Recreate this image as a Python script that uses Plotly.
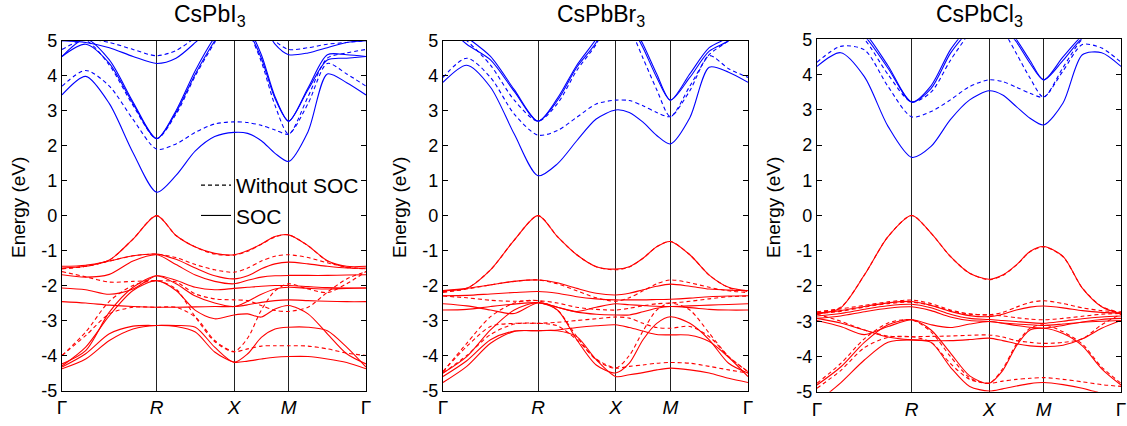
import numpy as np
import plotly.graph_objects as go
from plotly.subplots import make_subplots

# ---------------- data ----------------
K_NODES = [0.0, 0.866, 1.573, 2.073, 2.780]          # Γ R X M Γ (path length)
K_LABELS = ["Γ", "<i>R</i>", "<i>X</i>", "<i>M</i>", "Γ"]
Y_TICKS = [-5, -4, -3, -2, -1, 0, 1, 2, 3, 4, 5]
Y_LABELS = ["-5", "-4", "-3", "-2", "-1", "0", "1", "2", "3", "4", "5"]
TITLES = ["CsPbI<sub>3</sub>", "CsPbBr<sub>3</sub>", "CsPbCl<sub>3</sub>"]

# band energies (eV) read at 17 k-points: Γ, 3 pts, R, 3 pts, X, 3 pts, M, 3 pts, Γ
# ---- CsPbI3 ----
I_CB_SOC = [
    [3.45, 3.98, 3.2, 1.8, 0.67, 1.15, 1.85, 2.26, 2.38, 2.35, 2.14, 1.78, 1.55, 2.4, 4.05, 3.8, 3.45],
    [4.55, 4.9, 4.35, 3.2, 2.2, 2.95, 4.05, 5.0, 5.8, 5.3, 4.5, 3.35, 2.7, 3.6, 4.45, 4.5, 4.55],
    [4.55, 5.05, 4.45, 3.25, 2.2, 3.0, 4.15, 5.1, 5.8, 5.4, 4.6, 3.4, 2.7, 3.65, 4.6, 4.6, 4.55],
    [5.0, 4.95, 4.8, 4.55, 4.35, 4.5, 4.95, 5.5, 6.0, 6.0, 5.6, 4.9, 4.6, 4.65, 4.8, 4.95, 5.0],
]
I_CB_NOSOC = [
    [3.7, 4.15, 3.7, 2.75, 1.9, 2.05, 2.38, 2.62, 2.68, 2.66, 2.58, 2.45, 2.33, 3.2, 4.35, 4.05, 3.7],
    [4.75, 5.0, 4.3, 3.15, 2.2, 2.9, 4.0, 4.95, 5.8, 5.3, 4.4, 3.15, 2.33, 3.4, 4.5, 4.65, 4.75],
    [5.0, 5.05, 4.95, 4.75, 4.57, 4.72, 5.1, 5.6, 6.0, 6.0, 5.6, 5.0, 4.75, 4.8, 4.9, 4.95, 5.0],
]
I_VB_SOC = [
    [-1.45, -1.42, -1.27, -0.67, 0.0, -0.57, -0.9, -1.08, -1.12, -1.0, -0.81, -0.6, -0.55, -0.86, -1.29, -1.45, -1.45],
    [-1.5, -1.45, -1.3, -1.15, -1.1, -1.25, -1.5, -1.72, -1.81, -1.72, -1.52, -1.38, -1.33, -1.38, -1.45, -1.5, -1.5],
    [-1.69, -1.76, -1.68, -1.3, -1.12, -1.4, -1.7, -1.88, -1.95, -1.85, -1.76, -1.72, -1.71, -1.71, -1.71, -1.7, -1.69],
    [-2.07, -2.12, -2.25, -2.1, -1.72, -1.85, -2.05, -2.12, -2.08, -2.05, -2.02, -2.0, -2.0, -2.03, -2.06, -2.07, -2.07],
    [-2.46, -2.5, -2.56, -2.6, -2.62, -2.62, -2.61, -2.6, -2.6, -2.55, -2.48, -2.43, -2.41, -2.43, -2.45, -2.46, -2.46],
    [-4.3, -3.76, -2.86, -2.14, -1.86, -2.14, -2.71, -2.95, -2.84, -2.81, -2.9, -2.67, -2.57, -2.81, -3.38, -3.95, -4.24],
    [-4.24, -3.86, -2.76, -2.05, -1.72, -1.95, -2.3, -2.5, -2.6, -2.45, -2.25, -2.1, -2.05, -2.08, -2.1, -2.08, -2.07],
    [-4.33, -3.95, -3.38, -3.16, -3.14, -3.14, -3.19, -3.76, -4.19, -3.95, -3.48, -3.24, -3.19, -3.19, -3.29, -3.76, -4.33],
    [-4.38, -4.1, -3.57, -3.24, -3.14, -3.17, -3.33, -3.9, -4.19, -4.16, -4.1, -4.05, -4.03, -4.03, -4.1, -4.2, -4.38],
]
I_VB_NOSOC = [
    [-1.52, -1.45, -1.27, -0.67, 0.0, -0.57, -0.9, -1.1, -1.13, -1.02, -0.82, -0.61, -0.55, -0.86, -1.3, -1.48, -1.52],
    [-1.52, -1.45, -1.3, -1.15, -1.1, -1.2, -1.4, -1.55, -1.62, -1.5, -1.3, -1.16, -1.12, -1.2, -1.35, -1.47, -1.52],
    [-1.6, -1.75, -1.9, -1.88, -1.86, -1.9, -2.24, -2.38, -2.41, -2.43, -2.57, -2.71, -2.74, -2.62, -2.19, -1.81, -1.6],
    [-4.0, -3.43, -2.81, -2.62, -2.62, -2.62, -2.9, -3.57, -3.89, -3.81, -3.73, -3.72, -3.72, -3.73, -3.81, -3.93, -4.0],
    [-4.0, -3.33, -2.45, -2.0, -1.86, -2.1, -2.9, -3.6, -3.89, -3.5, -2.7, -2.15, -1.95, -2.1, -2.2, -1.95, -1.6],
]
# ---- CsPbBr3 ----
BR_CB_SOC = [
    [3.81, 4.3, 3.67, 2.33, 1.14, 1.48, 2.14, 2.76, 3.02, 2.95, 2.67, 2.29, 2.05, 2.8, 4.24, 4.1, 3.81],
    [5.5, 4.9, 4.45, 3.55, 2.7, 3.29, 4.24, 4.95, 6.0, 5.5, 4.8, 3.95, 3.3, 3.95, 4.7, 5.0, 5.5],
    [5.6, 5.1, 4.55, 3.6, 2.7, 3.35, 4.3, 5.05, 6.0, 5.6, 4.9, 4.05, 3.3, 4.05, 4.8, 5.1, 5.6],
]
BR_CB_NOSOC = [
    [3.95, 4.5, 3.95, 2.9, 2.3, 2.43, 2.81, 3.19, 3.3, 3.29, 3.14, 2.95, 2.83, 3.57, 4.57, 4.2, 3.95],
    [5.5, 5.0, 4.3, 3.3, 2.7, 3.2, 4.15, 4.9, 6.0, 5.4, 4.5, 3.6, 2.83, 3.7, 4.6, 5.0, 5.5],
]
BR_VB_SOC = [
    [-2.15, -2.08, -1.55, -0.7, 0.0, -0.6, -1.12, -1.46, -1.53, -1.46, -1.22, -0.89, -0.74, -1.12, -1.7, -2.05, -2.15],
    [-2.14, -2.08, -1.98, -1.88, -1.84, -1.92, -2.08, -2.22, -2.27, -2.22, -2.12, -2.02, -1.96, -2.02, -2.1, -2.13, -2.14],
    [-2.29, -2.28, -2.24, -2.2, -2.17, -2.22, -2.32, -2.38, -2.41, -2.41, -2.41, -2.4, -2.39, -2.36, -2.32, -2.3, -2.29],
    [-2.52, -2.58, -2.7, -2.8, -2.49, -2.62, -2.74, -2.62, -2.52, -2.55, -2.57, -2.59, -2.6, -2.58, -2.56, -2.54, -2.52],
    [-2.7, -2.68, -2.6, -2.53, -2.49, -2.62, -2.76, -2.82, -2.84, -2.84, -2.75, -2.65, -2.6, -2.63, -2.68, -2.7, -2.7],
    [-4.5, -4.03, -3.27, -2.7, -2.49, -2.7, -3.55, -4.27, -4.5, -4.22, -3.55, -3.08, -2.89, -3.08, -3.55, -4.22, -4.5],
    [-4.77, -4.31, -3.65, -3.31, -3.29, -3.29, -3.46, -4.12, -4.6, -4.55, -4.49, -4.41, -4.36, -4.41, -4.5, -4.65, -4.77],
    [-4.6, -4.15, -3.55, -3.3, -3.29, -3.27, -3.2, -3.15, -3.12, -3.2, -3.3, -3.4, -3.41, -3.42, -3.6, -4.05, -4.6],
]
BR_VB_NOSOC = [
    [-2.17, -2.08, -1.55, -0.7, 0.0, -0.6, -1.12, -1.46, -1.55, -1.47, -1.22, -0.89, -0.74, -1.12, -1.7, -2.06, -2.17],
    [-2.2, -2.1, -1.98, -1.88, -1.84, -1.95, -2.15, -2.35, -2.45, -2.35, -2.15, -1.95, -1.84, -1.92, -2.05, -2.15, -2.2],
    [-2.3, -2.35, -2.42, -2.45, -2.43, -2.5, -2.62, -2.68, -2.7, -2.65, -2.58, -2.52, -2.5, -2.45, -2.38, -2.32, -2.3],
    [-4.46, -3.74, -3.17, -3.08, -3.08, -3.05, -3.0, -2.95, -2.9, -2.93, -3.08, -3.2, -3.22, -3.17, -3.46, -4.03, -4.46],
    [-4.46, -3.65, -2.89, -2.5, -2.43, -2.7, -3.46, -4.12, -4.36, -4.0, -3.3, -2.7, -2.5, -2.7, -3.36, -4.03, -4.46],
    [-4.5, -4.0, -3.4, -3.1, -3.08, -3.15, -3.55, -4.1, -4.36, -4.31, -4.27, -4.22, -4.2, -4.22, -4.31, -4.41, -4.5],
]
# ---- CsPbCl3 ----
CL_CB_SOC = [
    [4.23, 4.62, 3.94, 2.53, 1.65, 1.96, 2.72, 3.28, 3.54, 3.42, 3.09, 2.76, 2.57, 3.19, 4.56, 4.62, 4.23],
    [5.5, 5.6, 5.1, 4.18, 3.22, 3.6, 4.6, 5.3, 6.0, 5.4, 4.93, 4.32, 3.85, 4.4, 5.03, 5.3, 5.5],
    [5.6, 5.7, 5.2, 4.25, 3.22, 3.68, 4.7, 5.4, 6.0, 5.5, 5.0, 4.4, 3.85, 4.5, 5.1, 5.4, 5.6],
]
CL_CB_NOSOC = [
    [4.35, 4.8, 4.7, 3.66, 2.8, 2.95, 3.28, 3.66, 3.85, 3.8, 3.64, 3.47, 3.36, 4.1, 4.85, 4.75, 4.35],
    [5.5, 5.5, 5.0, 4.0, 3.22, 3.5, 4.4, 5.2, 6.0, 5.3, 4.6, 3.9, 3.36, 4.2, 5.0, 5.3, 5.5],
]
CL_VB_SOC = [
    [-2.8, -2.62, -1.69, -0.6, 0.0, -0.5, -1.16, -1.64, -1.81, -1.69, -1.4, -1.02, -0.88, -1.16, -2.06, -2.59, -2.8],
    [-2.77, -2.7, -2.58, -2.48, -2.44, -2.55, -2.72, -2.84, -2.87, -2.8, -2.68, -2.6, -2.57, -2.62, -2.7, -2.75, -2.77],
    [-2.85, -2.78, -2.66, -2.56, -2.52, -2.62, -2.8, -2.92, -2.95, -2.98, -3.01, -3.04, -3.06, -3.0, -2.93, -2.88, -2.85],
    [-2.92, -2.85, -2.73, -2.63, -2.59, -2.7, -2.88, -2.98, -3.01, -3.06, -3.12, -3.17, -3.2, -3.12, -3.02, -2.95, -2.92],
    [-2.92, -3.05, -3.25, -3.45, -3.53, -3.55, -3.55, -3.52, -3.48, -3.55, -3.64, -3.7, -3.72, -3.68, -3.5, -3.2, -2.98],
    [-4.81, -4.3, -3.6, -3.1, -2.96, -3.25, -3.9, -4.55, -4.76, -4.4, -3.7, -3.25, -3.2, -3.35, -3.7, -4.35, -4.81],
    [-5.3, -4.75, -4.1, -3.6, -3.53, -3.6, -4.3, -4.85, -4.98, -4.92, -4.84, -4.77, -4.74, -4.8, -4.9, -5.05, -5.2],
    [-2.98, -3.15, -3.38, -3.15, -2.96, -3.1, -3.18, -3.08, -3.01, -3.05, -3.08, -3.1, -3.12, -3.08, -3.03, -3.0, -2.98],
]
CL_VB_NOSOC = [
    [-2.76, -2.6, -1.69, -0.6, 0.0, -0.5, -1.16, -1.64, -1.82, -1.7, -1.41, -1.03, -0.89, -1.17, -2.06, -2.58, -2.76],
    [-2.73, -2.65, -2.55, -2.45, -2.4, -2.5, -2.68, -2.79, -2.82, -2.75, -2.6, -2.47, -2.42, -2.5, -2.62, -2.7, -2.73],
    [-2.8, -3.0, -3.25, -3.42, -3.44, -3.43, -3.42, -3.4, -3.39, -3.45, -3.55, -3.6, -3.63, -3.6, -3.5, -3.1, -2.8],
    [-2.78, -2.72, -2.6, -2.5, -2.46, -2.55, -2.7, -2.8, -2.82, -2.85, -2.9, -2.94, -2.96, -2.92, -2.86, -2.8, -2.78],
    [-4.76, -4.2, -3.5, -3.05, -2.96, -3.3, -4.0, -4.6, -4.76, -4.35, -3.65, -3.2, -3.1, -3.3, -3.65, -4.3, -4.76],
    [-4.9, -4.4, -3.75, -3.46, -3.44, -3.6, -4.2, -4.65, -4.76, -4.7, -4.65, -4.62, -4.6, -4.65, -4.72, -4.8, -4.85],
]

PANELS = [
    (I_CB_SOC, I_CB_NOSOC, I_VB_SOC, I_VB_NOSOC),
    (BR_CB_SOC, BR_CB_NOSOC, BR_VB_SOC, BR_VB_NOSOC),
    (CL_CB_SOC, CL_CB_NOSOC, CL_VB_SOC, CL_VB_NOSOC),
]

# k-sample positions: 4 equal steps inside each path segment
K = [K_NODES[0]]
for a, b in zip(K_NODES[:-1], K_NODES[1:]):
    K += list(np.linspace(a, b, 5)[1:])

# ---------------- style / layout ----------------
W, H = 1127, 426
FONT = "Liberation Sans, Arial, Helvetica, sans-serif"
BLUE, RED = "#0000ff", "#ff0000"
DASH = "4px,3px"
LW = 1.1
X_DOM_PX = [(62, 366), (443, 748), (817, 1121)]
Y_DOM_PX = [(40.7, 390.5), (40.7, 390.5), (39.3, 391.7)]
TITLE_X_PX = [210, 601, 979]
YTITLE_X_PX = [19, 400, 774]

fig = make_subplots(rows=1, cols=3)

for i, (cb_s, cb_n, vb_s, vb_n) in enumerate(PANELS):
    col = i + 1
    for bands, color, dash in [(cb_n, BLUE, DASH), (vb_n, RED, DASH), (cb_s, BLUE, "solid"), (vb_s, RED, "solid")]:
        for b in bands:
            fig.add_trace(go.Scatter(x=K, y=b, mode="lines",
                                     line=dict(color=color, width=LW, dash=dash, shape="spline", smoothing=0.8),
                                     showlegend=False, hoverinfo="skip"), row=1, col=col)

# legend entries
fig.add_trace(go.Scatter(x=[None], y=[None], mode="lines", name="Without SOC",
                         line=dict(color="black", width=1.1, dash=DASH)), row=1, col=1)
fig.add_trace(go.Scatter(x=[None], y=[None], mode="lines", name="SOC",
                         line=dict(color="black", width=1.1)), row=1, col=1)

for i in range(3):
    xa = "xaxis" if i == 0 else f"xaxis{i+1}"
    ya = "yaxis" if i == 0 else f"yaxis{i+1}"
    x0, x1 = X_DOM_PX[i]
    y0, y1 = Y_DOM_PX[i]
    fig.layout[xa].update(domain=[x0 / W, x1 / W], range=[K_NODES[0], K_NODES[-1]],
                          tickvals=K_NODES, ticktext=K_LABELS, ticks="", automargin=False,
                          showgrid=True, gridcolor="#222", gridwidth=1, zeroline=False,
                          showline=True, linecolor="black", linewidth=1.3, mirror=True,
                          tickfont=dict(family=FONT, size=19, color="black"))
    fig.layout[ya].update(domain=[1 - y1 / H, 1 - y0 / H], range=[-5, 5], automargin=False,
                          tickvals=Y_TICKS, ticktext=Y_LABELS, ticks="inside", ticklen=5,
                          tickwidth=1, tickcolor="black", showgrid=False, zeroline=False,
                          showline=True, linecolor="black", linewidth=1.3, mirror="ticks",
                          tickfont=dict(family=FONT, size=18, color="black"))
    fig.add_annotation(text=TITLES[i], x=TITLE_X_PX[i] / W, y=1 - 16 / H, xref="paper", yref="paper",
                       showarrow=False, font=dict(family=FONT, size=23, color="black"),
                       xanchor="center", yanchor="middle")
    fig.add_annotation(text="Energy (eV)", x=YTITLE_X_PX[i] / W, y=1 - 208 / H, xref="paper", yref="paper",
                       showarrow=False, textangle=-90, font=dict(family=FONT, size=19, color="black"),
                       xanchor="center", yanchor="middle")

fig.update_layout(
    template="none",
    width=W, height=H, margin=dict(l=0, r=0, t=0, b=0, pad=0, autoexpand=False),
    paper_bgcolor="white", plot_bgcolor="white",
    font=dict(family=FONT, color="black"),
    showlegend=True,
    legend=dict(x=196 / W, y=1 - 165 / H, xanchor="left", yanchor="top",
                bgcolor="rgba(0,0,0,0)", borderwidth=0, font=dict(family=FONT, size=21, color="black"),
                tracegroupgap=0, itemwidth=30),
)

fig.write_html("out.html", config={"displayModeBar": False},
               post_script="document.body.style.margin='0px';document.body.style.overflow='hidden';")
